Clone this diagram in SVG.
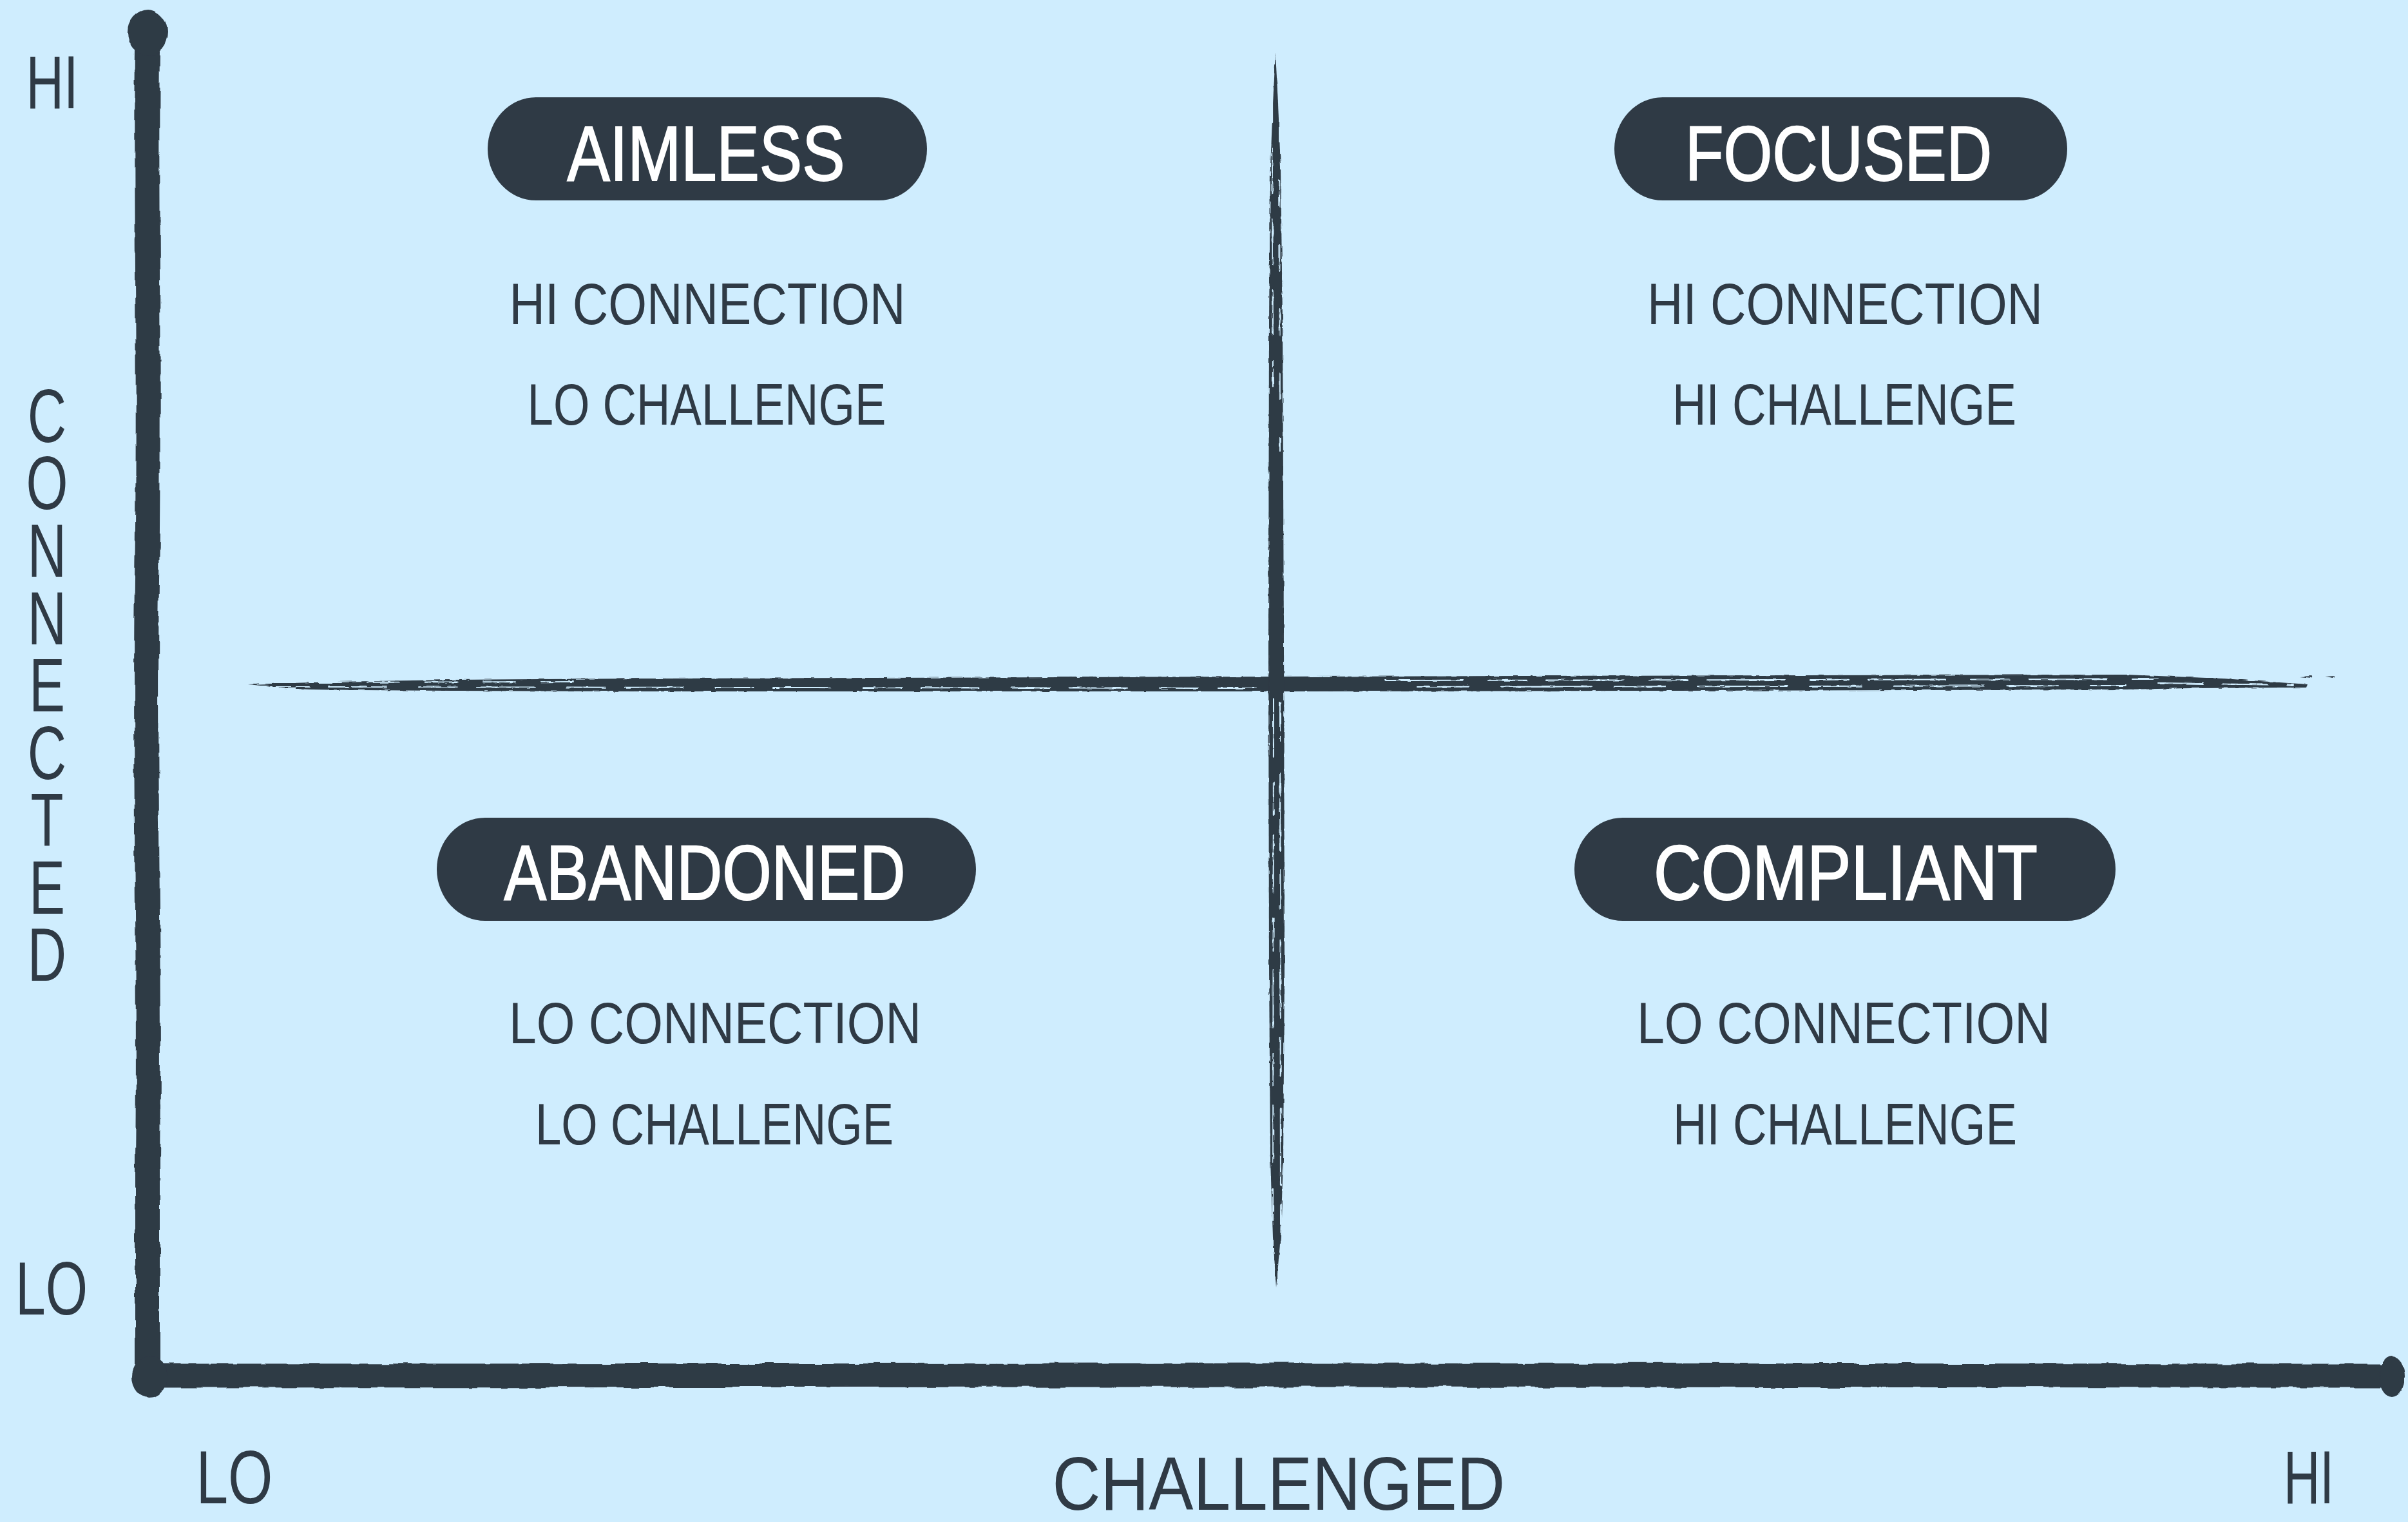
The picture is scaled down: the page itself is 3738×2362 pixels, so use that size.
<svg xmlns="http://www.w3.org/2000/svg" width="3738" height="2362" viewBox="0 0 3738 2362">
  <defs>
    <filter id="rough" filterUnits="userSpaceOnUse" x="0" y="0" width="3738" height="2362">
      <feTurbulence type="fractalNoise" baseFrequency="0.03" numOctaves="2" seed="3" result="n"/>
      <feDisplacementMap in="SourceGraphic" in2="n" scale="7" xChannelSelector="R" yChannelSelector="G"/>
    </filter>
    <filter id="brush" filterUnits="userSpaceOnUse" x="0" y="0" width="3738" height="2362">
      <feTurbulence type="fractalNoise" baseFrequency="0.06 0.5" numOctaves="2" seed="7" result="n"/>
      <feDisplacementMap in="SourceGraphic" in2="n" scale="4" xChannelSelector="R" yChannelSelector="G"/>
    </filter>
    <filter id="brushv" filterUnits="userSpaceOnUse" x="0" y="0" width="3738" height="2362">
      <feTurbulence type="fractalNoise" baseFrequency="0.5 0.06" numOctaves="2" seed="11" result="n"/>
      <feDisplacementMap in="SourceGraphic" in2="n" scale="4" xChannelSelector="R" yChannelSelector="G"/>
    </filter>
  </defs>
  <style>
    .bg { fill: #CFEDFE; }
    .ink { fill: #2F3A45; }
    .axis { fill: none; stroke: #2F3A45; stroke-linecap: round; stroke-linejoin: round; }
    .streak { fill: none; stroke: #CFEDFE; stroke-linecap: round; }
    .pill { fill: #2F3A45; }
    .ptxt { font-family: "Liberation Sans", Arial, sans-serif; font-size: 120px; fill: #FFFFFF; stroke: #FFFFFF; stroke-width: 2px; text-anchor: middle; }
    .body { font-family: "Liberation Sans", Arial, sans-serif; font-size: 91px; fill: #2F3A45; text-anchor: middle; }
    .lbl { font-family: "Liberation Sans", Arial, sans-serif; font-size: 116px; fill: #2F3A45; text-anchor: middle; }
    .vert { writing-mode: vertical-rl; text-orientation: upright; }
  </style>

  <rect class="bg" x="0" y="0" width="3738" height="2362"/>

  <!-- axes and quadrant dividers -->
  <g id="connectors">
    <g id="axes" filter="url(#rough)">
      <path class="axis" stroke-width="38" d="M229,80 C226,320 233,600 228,900 C224,1200 233,1500 229,1800 L229,2130"/>
      <ellipse class="ink" cx="229" cy="50" rx="31" ry="36"/>
      <path class="axis" stroke-width="37" d="M229,2135 C900,2132 1500,2138 2000,2134 C2600,2131 3200,2138 3712,2135"/>
      <ellipse class="ink" cx="232" cy="2137" rx="27" ry="32"/>
      <ellipse class="ink" cx="3713" cy="2136" rx="20" ry="32"/>
    </g>
    <g id="divider-h" filter="url(#brush)">
      <path class="ink" d="M386,1062 L520,1058 L700,1055 L1000,1053 L1980,1050 L2800,1048 L3300,1047 L3450,1053 L3582,1062 L3580,1067 L3400,1068 L3300,1070 L2600,1072 L1980,1073 L1000,1073 L700,1072 L560,1071 L480,1070 L440,1068 Z"/>
      <path class="streak" stroke-width="2" stroke-dasharray="120 40 60 30" d="M2150,1056 L3350,1054"/>
      <path class="streak" stroke-width="2" stroke-dasharray="80 50 140 35" d="M2200,1066 L3300,1064"/>
      <path class="streak" stroke-width="2" stroke-dasharray="60 30 90 50" d="M420,1066 L1950,1068"/>
      <path class="streak" stroke-width="2" stroke-dasharray="50 40" d="M480,1059 L900,1058"/>
      <path class="streak" stroke-width="2" stroke-dasharray="70 30" d="M3350,1060 L3560,1063"/>
      <path class="ink" d="M3610,1050 L3625,1049 L3622,1052 Z"/>
      <path class="ink" d="M3570,1050 L3590,1049 L3588,1052 Z"/>
    </g>
    <g id="divider-v" filter="url(#brushv)">
      <path class="ink" d="M1980,82 L1984,160 L1988,260 L1991,500 L1993,1000 L1994,1500 L1992,1800 L1988,1920 L1981,1998 L1976,1920 L1972,1800 L1970,1500 L1969,1000 L1970,500 L1972,260 L1976,160 Z"/>
      <path class="streak" stroke-width="2" stroke-dasharray="90 40 50 30" d="M1977,1085 L1976,1950"/>
      <path class="streak" stroke-width="2" stroke-dasharray="60 50 120 30" d="M1987,1090 L1988,1900"/>
      <path class="streak" stroke-width="2" stroke-dasharray="70 40" d="M1975,120 L1976,600"/>
      <path class="streak" stroke-width="2" stroke-dasharray="40 60" d="M1986,180 L1987,700"/>
    </g>
  </g>

  <!-- axis labels -->
  <g id="y-axis-labels">
    <text class="lbl" x="81" y="168" textLength="81" lengthAdjust="spacingAndGlyphs">HI</text>
    <text class="lbl" x="80" y="2040" textLength="112" lengthAdjust="spacingAndGlyphs">LO</text>
    <text id="y-title" class="lbl vert" transform="translate(73 0) scale(0.72 1)" x="0" y="1064" textLength="965" lengthAdjust="spacing">CONNECTED</text>
  </g>
  <g id="x-axis-labels">
    <text class="lbl" x="364" y="2333" textLength="119" lengthAdjust="spacingAndGlyphs">LO</text>
    <text class="lbl" x="1985" y="2343" textLength="703" lengthAdjust="spacingAndGlyphs">CHALLENGED</text>
    <text class="lbl" x="3584" y="2333" textLength="78" lengthAdjust="spacingAndGlyphs">HI</text>
  </g>

  <!-- quadrants -->
  <g id="aimless">
    <rect class="pill" x="757" y="151" width="682" height="160" rx="75" ry="80"/>
    <text class="ptxt" x="1096" y="280" textLength="431" lengthAdjust="spacingAndGlyphs">AIMLESS</text>
    <text class="body" x="1098" y="503" textLength="615" lengthAdjust="spacingAndGlyphs">HI CONNECTION</text>
    <text class="body" x="1097" y="659" textLength="557" lengthAdjust="spacingAndGlyphs">LO CHALLENGE</text>
  </g>
  <g id="focused">
    <rect class="pill" x="2506" y="151" width="703" height="160" rx="75" ry="80"/>
    <text class="ptxt" x="2854" y="280" textLength="476" lengthAdjust="spacingAndGlyphs">FOCUSED</text>
    <text class="body" x="2864" y="503" textLength="614" lengthAdjust="spacingAndGlyphs">HI CONNECTION</text>
    <text class="body" x="2863" y="659" textLength="534" lengthAdjust="spacingAndGlyphs">HI CHALLENGE</text>
  </g>
  <g id="abandoned">
    <rect class="pill" x="678" y="1269" width="837" height="160" rx="75" ry="80"/>
    <text class="ptxt" x="1094" y="1396" textLength="623" lengthAdjust="spacingAndGlyphs">ABANDONED</text>
    <text class="body" x="1110" y="1619" textLength="640" lengthAdjust="spacingAndGlyphs">LO CONNECTION</text>
    <text class="body" x="1109" y="1776" textLength="556" lengthAdjust="spacingAndGlyphs">LO CHALLENGE</text>
  </g>
  <g id="compliant">
    <rect class="pill" x="2444" y="1269" width="840" height="160" rx="75" ry="80"/>
    <text class="ptxt" x="2865" y="1396" textLength="596" lengthAdjust="spacingAndGlyphs">COMPLIANT</text>
    <text class="body" x="2862" y="1619" textLength="642" lengthAdjust="spacingAndGlyphs">LO CONNECTION</text>
    <text class="body" x="2864" y="1776" textLength="534" lengthAdjust="spacingAndGlyphs">HI CHALLENGE</text>
  </g>
</svg>
